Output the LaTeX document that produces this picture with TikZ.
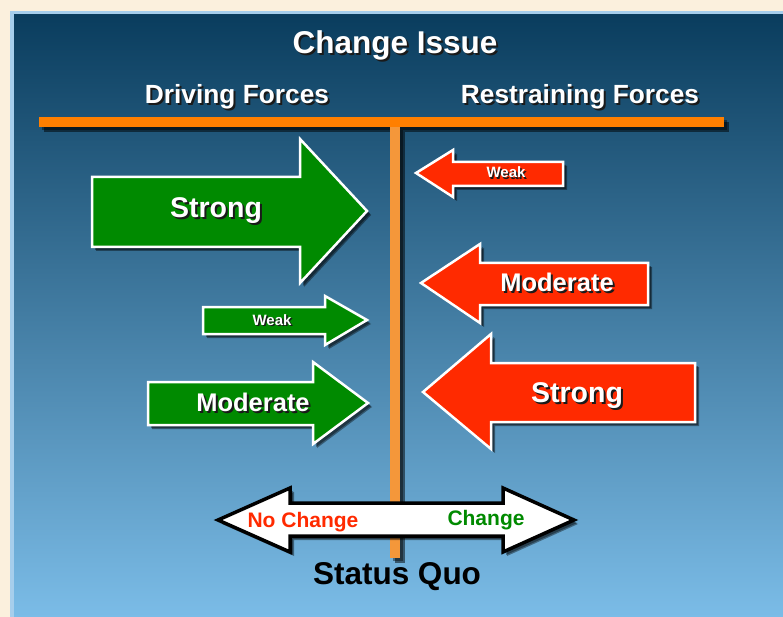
\documentclass[tikz,border=0pt]{standalone}
\usepackage{fontspec}
\setmainfont{Liberation Sans}
\usetikzlibrary{shadows}
\definecolor{beige}{HTML}{FBF0DD}
\definecolor{panelborder}{HTML}{A6CEEC}
\definecolor{paneltop}{HTML}{0A3D5E}
\definecolor{panelmid}{HTML}{4A80A8}
\definecolor{panelbot}{HTML}{7BBCE7}
\definecolor{barorange}{HTML}{FF7F00}
\definecolor{vbarorange}{HTML}{F4973A}
\definecolor{agreen}{HTML}{008A00}
\definecolor{ared}{HTML}{FF2A00}
\definecolor{shadowcol}{HTML}{1A1A1A}
\newcommand\fsz[1]{\bfseries\fontsize{#1}{#1}\selectfont}
\newcommand\shtext[2]{\rlap{\kern#1\raisebox{-#1}{\textcolor{shadowcol}{#2}}}#2}
\tikzset{
  lbl/.style={anchor=base, inner sep=0pt, text=white},
  plainlbl/.style={anchor=base, inner sep=0pt},
  softshadow/.style={drop shadow={shadow xshift=4pt, shadow yshift=-4pt, opacity=0.4, fill=black},
                     drop shadow={shadow xshift=3pt, shadow yshift=-3pt, opacity=0.4, fill=black}},
  forcearrow/.style={draw=white, line width=2.5pt, line join=miter, softshadow},
  greenarrow/.style={forcearrow, fill=agreen},
  redarrow/.style={forcearrow, fill=ared},
  scalearrow/.style={draw=black, fill=white, line width=3.5pt, line join=miter, softshadow},
  barstyle/.style={drop shadow={shadow xshift=5pt, shadow yshift=-5pt, opacity=0.5, fill=black},
                   drop shadow={shadow xshift=3pt, shadow yshift=-3pt, opacity=0.4, fill=black}}
}
\begin{document}
\begin{tikzpicture}[x=1pt, y=-1pt]
\useasboundingbox (0,0) rectangle (783,617);
% background
\fill[beige] (0,0) rectangle (783,617);
\fill[panelborder] (10,11) rectangle (783,617);
\shade[top color=paneltop, middle color=panelmid, bottom color=panelbot] (14,15) rectangle (783,617);
% bars
\fill[barorange, barstyle] (39,117) rectangle (724,127);
\fill[vbarorange, barstyle] (390,127) rectangle (400,558);
% driving forces
\draw[greenarrow] (92,177) -- (300,177) -- (300,139) -- (367,211) -- (300,283) -- (300,247) -- (92,247) -- cycle;
\draw[greenarrow] (203,307) -- (325,307) -- (325,296) -- (367,320) -- (325,345) -- (325,334) -- (203,334) -- cycle;
\draw[greenarrow] (148,382) -- (313,382) -- (313,362) -- (368,403) -- (313,444) -- (313,425) -- (148,425) -- cycle;
% restraining forces
\draw[redarrow] (563,162) -- (453,162) -- (453,150) -- (416,173) -- (453,197) -- (453,186) -- (563,186) -- cycle;
\draw[redarrow] (648,263) -- (480,263) -- (480,244) -- (421,283) -- (480,323) -- (480,305) -- (648,305) -- cycle;
\draw[redarrow] (695,363) -- (491,363) -- (491,334) -- (423,392) -- (491,449) -- (491,422) -- (695,422) -- cycle;
% status quo scale
\draw[scalearrow] (218,520) -- (290,488) -- (290,503) -- (503,503) -- (503,488) -- (574,520) -- (503,552) -- (503,536) -- (290,536) -- (290,552) -- cycle;
% texts
\node[lbl, font=\fsz{31.5}] (title) at (395,54) {\shtext{2pt}{Change Issue}};
\node[lbl, font=\fsz{26.3}] (driving) at (237,104) {\shtext{2pt}{Driving Forces}};
\node[lbl, font=\fsz{26.3}] (restraining) at (580,104) {\shtext{2pt}{Restraining Forces}};
\node[lbl, font=\fsz{28.5}] (gstrong) at (216,218) {\shtext{2pt}{Strong}};
\node[lbl, font=\fsz{15}] (gweak) at (272,325) {\shtext{1.5pt}{Weak}};
\node[lbl, font=\fsz{25.5}] (gmod) at (253,411) {\shtext{2pt}{Moderate}};
\node[lbl, font=\fsz{15}] (rweak) at (506,178) {\shtext{1.5pt}{Weak}};
\node[lbl, font=\fsz{25.5}] (rmod) at (557,291) {\shtext{2pt}{Moderate}};
\node[lbl, font=\fsz{28.5}] (rstrong) at (577,402) {\shtext{2pt}{Strong}};
\node[plainlbl, text=ared, font=\fsz{21}] (nochange) at (303,527) {No Change};
\node[plainlbl, text=agreen, font=\fsz{21}] (change) at (486,525) {Change};
\node[plainlbl, text=black, font=\fsz{31.5}] (statusquo) at (397,584) {Status Quo};
\end{tikzpicture}
\end{document}
